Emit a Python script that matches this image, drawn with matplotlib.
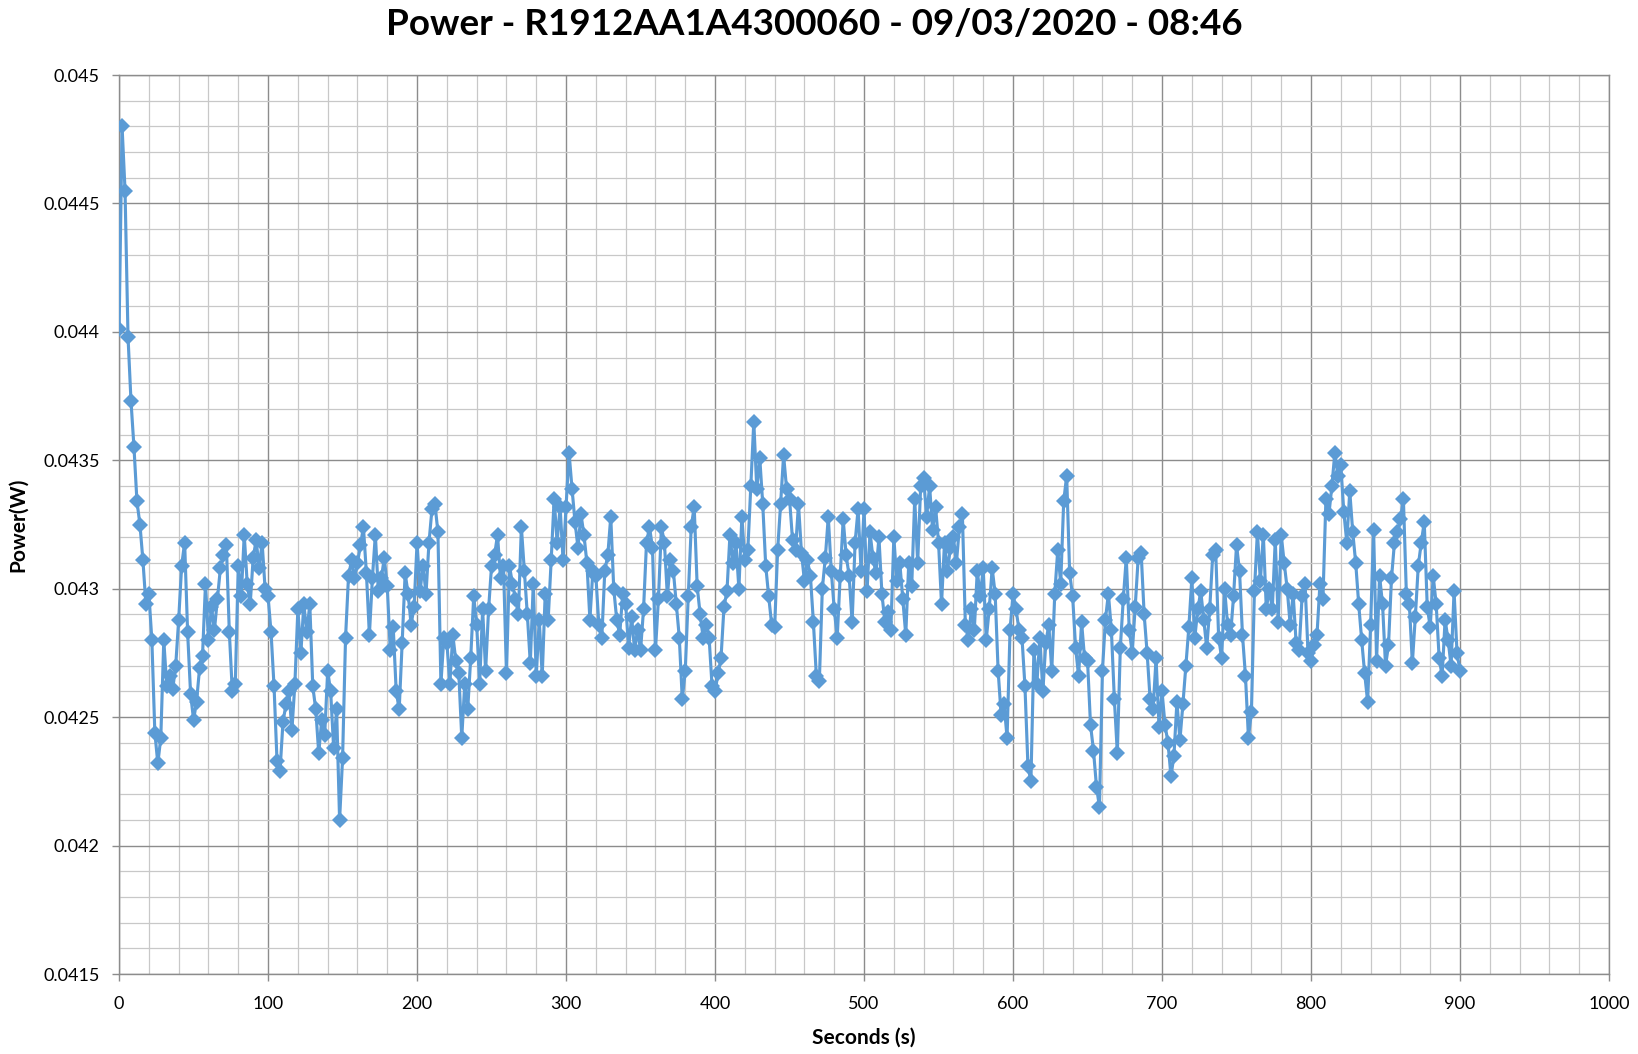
import numpy as np
import matplotlib
matplotlib.use("Agg")
import matplotlib.pyplot as plt
from matplotlib.ticker import MultipleLocator, FuncFormatter

plt.rcParams["font.family"] = ["Lato", "DejaVu Sans"]

# one reading every 2 s, power in units of 10 uW (4300 -> 0.04300 W)
seconds = np.arange(0, 901, 2)
power_raw = [
    4401, 4480, 4455, 4398, 4373, 4355, 4334, 4325, 4311, 4294,
    4298, 4280, 4244, 4232, 4242, 4280, 4262, 4266, 4261, 4270,
    4288, 4309, 4318, 4283, 4259, 4249, 4256, 4269, 4274, 4302,
    4280, 4293, 4284, 4296, 4308, 4313, 4317, 4283, 4260, 4263,
    4309, 4297, 4321, 4302, 4294, 4312, 4319, 4308, 4318, 4300,
    # 100 s
    4297, 4283, 4262, 4233, 4229, 4248, 4255, 4260, 4245, 4263,
    4292, 4275, 4294, 4283, 4294, 4262, 4253, 4236, 4249, 4243,
    4268, 4260, 4238, 4253, 4210, 4234, 4281, 4305, 4311, 4304,
    4310, 4317, 4324, 4306, 4282, 4304, 4321, 4299, 4304, 4312,
    4301, 4276, 4285, 4260, 4253, 4279, 4306, 4298, 4286, 4293,
    # 200 s
    4318, 4299, 4309, 4298, 4318, 4331, 4333, 4322, 4263, 4281,
    4279, 4263, 4282, 4272, 4267, 4242, 4263, 4253, 4273, 4297,
    4286, 4263, 4292, 4268, 4292, 4309, 4313, 4321, 4304, 4309,
    4267, 4309, 4302, 4296, 4290, 4324, 4307, 4290, 4271, 4302,
    4266, 4288, 4266, 4298, 4288, 4311, 4335, 4318, 4332, 4311,
    # 300 s
    4332, 4353, 4339, 4326, 4316, 4329, 4321, 4310, 4288, 4307,
    4305, 4286, 4281, 4307, 4313, 4328, 4300, 4288, 4282, 4298,
    4294, 4277, 4289, 4276, 4284, 4276, 4292, 4318, 4324, 4316,
    4276, 4296, 4324, 4318, 4297, 4311, 4307, 4294, 4281, 4257,
    4268, 4297, 4324, 4332, 4301, 4290, 4281, 4286, 4281, 4262,
    # 400 s
    4260, 4267, 4273, 4293, 4299, 4321, 4310, 4318, 4300, 4328,
    4311, 4315, 4340, 4365, 4339, 4351, 4333, 4309, 4297, 4286,
    4285, 4315, 4333, 4352, 4339, 4335, 4319, 4315, 4333, 4314,
    4303, 4311, 4305, 4287, 4266, 4264, 4300, 4312, 4328, 4307,
    4292, 4281, 4305, 4327, 4313, 4305, 4287, 4318, 4331, 4307,
    # 500 s
    4331, 4299, 4322, 4312, 4306, 4320, 4298, 4287, 4291, 4284,
    4320, 4303, 4310, 4296, 4282, 4310, 4301, 4335, 4310, 4340,
    4343, 4328, 4340, 4323, 4332, 4318, 4294, 4318, 4307, 4316,
    4320, 4310, 4324, 4329, 4286, 4280, 4292, 4284, 4307, 4297,
    4308, 4280, 4292, 4308, 4298, 4268, 4251, 4255, 4242, 4284,
    # 600 s
    4298, 4292, 4284, 4281, 4262, 4231, 4225, 4276, 4263, 4281,
    4260, 4279, 4286, 4268, 4298, 4315, 4302, 4334, 4344, 4306,
    4297, 4277, 4266, 4287, 4273, 4272, 4247, 4237, 4223, 4215,
    4268, 4288, 4298, 4284, 4257, 4236, 4277, 4296, 4312, 4284,
    4275, 4293, 4312, 4314, 4290, 4275, 4257, 4253, 4273, 4246,
    # 700 s
    4260, 4247, 4240, 4227, 4235, 4256, 4241, 4255, 4270, 4285,
    4304, 4281, 4292, 4299, 4288, 4277, 4292, 4313, 4315, 4281,
    4273, 4300, 4286, 4282, 4297, 4317, 4307, 4282, 4266, 4242,
    4252, 4299, 4322, 4303, 4321, 4292, 4300, 4292, 4319, 4287,
    4321, 4310, 4300, 4286, 4298, 4279, 4276, 4297, 4302, 4275,
    # 800 s
    4272, 4278, 4282, 4302, 4296, 4335, 4329, 4340, 4353, 4344,
    4348, 4330, 4318, 4338, 4322, 4310, 4294, 4280, 4267, 4256,
    4286, 4323, 4272, 4305, 4294, 4270, 4278, 4304, 4318, 4322,
    4327, 4335, 4298, 4294, 4271, 4289, 4309, 4318, 4326, 4293,
    4285, 4305, 4294, 4273, 4266, 4288, 4280, 4270, 4299, 4275,
    4268,
]
power = np.array(power_raw) * 1e-5

title = "Power - R1912AA1A4300060 - 09/03/2020 - 08:46"

fig = plt.figure(figsize=(16.38, 10.54), dpi=100)
ax = fig.add_axes([0.0727, 0.0759, 0.9096, 0.8529])

ax.plot(seconds, power, color="#5B9BD5", lw=2.25, marker="D", ms=8,
        markeredgewidth=0, zorder=3)

ax.set_xlim(0, 1000)
ax.set_ylim(0.0415, 0.045)
ax.xaxis.set_major_locator(MultipleLocator(100))
ax.xaxis.set_minor_locator(MultipleLocator(20))
ax.yaxis.set_major_locator(MultipleLocator(0.0005))
ax.yaxis.set_minor_locator(MultipleLocator(0.0001))
ax.yaxis.set_major_formatter(FuncFormatter(lambda v, p: "%g" % round(v, 5)))

ax.grid(which="major", color="#8c8c8c", lw=1.0, zorder=0)
ax.grid(which="minor", color="#c8c8c8", lw=0.9, zorder=0)
ax.set_axisbelow(True)
for s in ax.spines.values():
    s.set_color("#8c8c8c")
    s.set_linewidth(1.0)

ax.tick_params(which="minor", length=0)
ax.tick_params(which="major", length=5, width=1, color="#8c8c8c")
ax.tick_params(axis="x", labelsize=13, pad=11)
ax.tick_params(axis="y", labelsize=13, pad=9)

ax.set_xlabel("Seconds (s)", fontsize=15, fontweight="bold", labelpad=11)
ax.set_ylabel("Power(W)", fontsize=15, fontweight="bold", labelpad=11)

fig.text(0.497, 0.977, title, ha="center", va="center", fontsize=26.5,
         fontweight="bold")

fig.savefig("out.png", dpi=100)
